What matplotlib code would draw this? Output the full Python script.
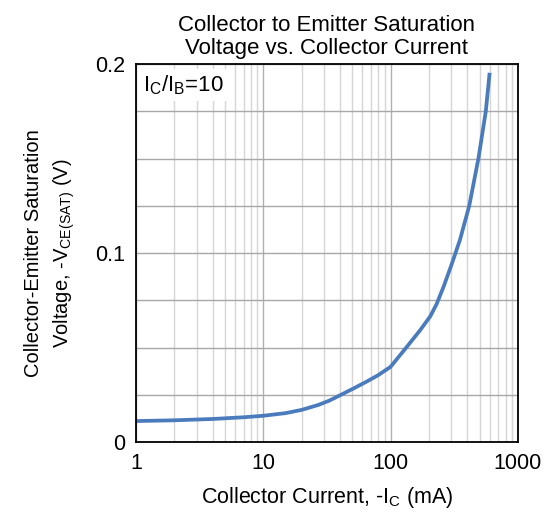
import numpy as np
import matplotlib
matplotlib.use("Agg")
import matplotlib.pyplot as plt
from matplotlib.ticker import LogLocator, MultipleLocator, NullFormatter

plt.rcParams['font.family'] = ['Liberation Sans', 'DejaVu Sans']
plt.rcParams['mathtext.fontset'] = 'custom'
plt.rcParams['mathtext.rm'] = 'Liberation Sans'

# Collector current (mA) and saturation voltage (V)
ic_ma = [1, 2, 4, 7, 10, 15, 20, 27, 33, 40, 51, 65, 80, 100, 130, 170,
         205, 230, 262, 300, 351, 415, 490, 560, 600]
vce_sat = [0.0111, 0.0115, 0.0122, 0.0131, 0.0139, 0.0153, 0.0170, 0.0196,
           0.0219, 0.0247, 0.0283, 0.0320, 0.0354, 0.0398, 0.0492, 0.0590,
           0.0665, 0.0730, 0.0825, 0.0935, 0.1070, 0.1250, 0.1500, 0.1750,
           0.1954]

x_ticks = [1, 10, 100, 1000]
y_ticks = [0, 0.1, 0.2]

fig = plt.figure(figsize=(5.48, 5.17), dpi=100)
ax = fig.add_axes([0.248, 0.145, 0.697, 0.731])

ax.plot(ic_ma, vce_sat, color='#4a7bbd', linewidth=2.7, solid_capstyle='butt')

ax.set_xscale('log')
ax.set_xlim(1, 1000)
ax.set_ylim(0, 0.2)
ax.set_xticks(x_ticks)
ax.set_xticklabels([str(t) for t in x_ticks])
ax.xaxis.set_minor_locator(LogLocator(base=10, subs=np.arange(2, 10)))
ax.xaxis.set_minor_formatter(NullFormatter())
ax.set_yticks(y_ticks)
ax.set_yticklabels(['0', '0.1', '0.2'])
ax.yaxis.set_minor_locator(MultipleLocator(0.025))

ax.grid(True, which='major', axis='x', color='#b0b0b0', linewidth=1.0)
ax.grid(True, which='minor', axis='x', color='#d6d6d6', linewidth=1.0)
ax.grid(True, which='both', axis='y', color='#a8a8a8', linewidth=1.0)
ax.set_axisbelow(True)

ax.tick_params(which='both', length=0, labelsize=15.5, pad=8)
for s in ax.spines.values():
    s.set_linewidth(1.3)
    s.set_color('black')

ax.set_xlabel('Collector Current, -I$_\\mathregular{C}$ (mA)', fontsize=15.5, labelpad=8)
ax.set_ylabel('Collector-Emitter Saturation\nVoltage, -V$_\\mathregular{CE(SAT)}$ (V)',
              fontsize=14.5, labelpad=13, linespacing=1.5)
ax.set_title('Collector to Emitter Saturation\nVoltage vs. Collector Current',
             fontsize=16, pad=7, linespacing=1.15)

ax.text(0.018, 0.975, 'I$_\\mathregular{C}$/I$_\\mathregular{B}$=10', transform=ax.transAxes,
        fontsize=16, va='top', ha='left',
        bbox=dict(facecolor='white', edgecolor='none', pad=3))

fig.savefig('out.png', dpi=100)
